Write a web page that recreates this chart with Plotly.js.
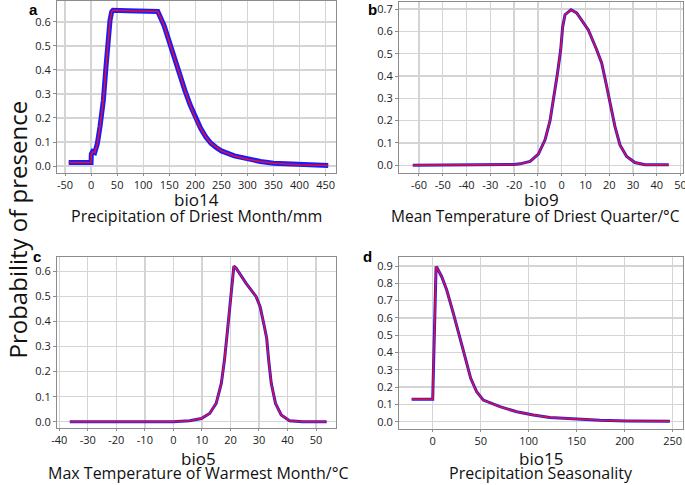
<!DOCTYPE html>
<html>
<head>
<meta charset="utf-8">
<script src="https://cdn.plot.ly/plotly-3.0.1.min.js"></script>
<style>html,body{margin:0;padding:0;background:#fff;}#chart{width:685px;height:485px;}</style>
</head>
<body>
<div id="chart"></div>
<script>
// Panel a: bio14
const aX = [-43, 0, 0.5, 3, 7, 12, 17, 23.5, 28.6, 32.4, 36.3, 39.5, 42, 70, 100, 128, 140, 150, 160, 170, 180, 190, 200, 210, 220, 230, 240, 250, 275, 300, 325, 350, 400, 455];
const aY = [0.015, 0.015, 0.05, 0.06, 0.056, 0.093, 0.162, 0.273, 0.412, 0.523, 0.606, 0.642, 0.648, 0.646, 0.645, 0.643, 0.585, 0.515, 0.445, 0.38, 0.315, 0.255, 0.2, 0.158, 0.122, 0.095, 0.077, 0.063, 0.042, 0.028, 0.019, 0.012, 0.005, 0.002];
// Panel b: bio9
const bX = [-62.6, -40, -25, -20, -17.5, -13.3, -9.8, -7, -4.9, -3.5, -1.8, -0.4, 0.4, 1.4, 3.9, 6.3, 11.2, 14.7, 16.8, 18.6, 20.3, 22.4, 24.5, 27.3, 30.8, 35, 45];
const bY = [0, 0, 0.001, 0.003, 0.006, 0.017, 0.05, 0.114, 0.2, 0.29, 0.41, 0.52, 0.62, 0.675, 0.697, 0.683, 0.607, 0.518, 0.459, 0.37, 0.28, 0.173, 0.091, 0.039, 0.012, 0.002, 0.002];
// Panel c: bio5
const cX = [-36.3, 0, 5.7, 9.8, 12.7, 15, 16.8, 17.9, 19.1, 20.3, 21.2, 22, 25.5, 29, 30.4, 31.9, 32.7, 33.4, 34.3, 35.8, 37.8, 40.7, 45.3, 53.7];
const cY = [0, 0, 0.004, 0.013, 0.033, 0.073, 0.153, 0.246, 0.379, 0.525, 0.621, 0.612, 0.552, 0.499, 0.459, 0.379, 0.333, 0.246, 0.153, 0.073, 0.027, 0.004, 0, 0];
// Panel d: bio15
const dX = [-21.9, 0, 3.5, 4.5, 9.4, 14.6, 21.5, 28.4, 33.6, 39.6, 45.8, 52.7, 70, 87.5, 104.8, 122, 150, 174, 202, 247];
const dY = [0.13, 0.13, 0.895, 0.89, 0.838, 0.761, 0.626, 0.491, 0.376, 0.251, 0.173, 0.125, 0.087, 0.058, 0.039, 0.025, 0.014, 0.008, 0.004, 0.003];

// Tick labels (plain hyphen minus, as in the reference)
const aTicks = [-50, 0, 50, 100, 150, 200, 250, 300, 350, 400, 450];
const aTickText = ['-50', '0', '50', '100', '150', '200', '250', '300', '350', '400', '450'];
const bTicks = [-60, -50, -40, -30, -20, -10, 0, 10, 20, 30, 40, 50];
const bTickText = ['-60', '-50', '-40', '-30', '-20', '-10', '0', '10', '20', '30', '40', '50'];
const cTicks = [-40, -30, -20, -10, 0, 10, 20, 30, 40, 50];
const cTickText = ['-40', '-30', '-20', '-10', '0', '10', '20', '30', '40', '50'];
const dTicks = [0, 50, 100, 150, 200, 250];
const dTickText = ['0', '50', '100', '150', '200', '250'];

const panels = [
  {x: aX, y: aY, xa: 'x', ya: 'y', band: 5, label: 'a', code: 'bio14', name: 'Precipitation of Driest Month/mm'},
  {x: bX, y: bY, xa: 'x2', ya: 'y2', band: 3, label: 'b', code: 'bio9', name: 'Mean Temperature of Driest Quarter/\u00b0C'},
  {x: cX, y: cY, xa: 'x3', ya: 'y3', band: 3, label: 'c', code: 'bio5', name: 'Max Temperature of Warmest Month/\u00b0C'},
  {x: dX, y: dY, xa: 'x4', ya: 'y4', band: 3, label: 'd', code: 'bio15', name: 'Precipitation Seasonality'}
];

const traces = [];
panels.forEach(p => {
  traces.push({x: p.x, y: p.y, xaxis: p.xa, yaxis: p.ya, mode: 'lines', line: {color: '#1a1aff', width: p.band}, hoverinfo: 'skip'});
  traces.push({x: p.x, y: p.y, xaxis: p.xa, yaxis: p.ya, mode: 'lines', line: {color: '#e8102a', width: 1.5}, hoverinfo: 'skip'});
});

const tickFont = {family: 'Open Sans, sans-serif', size: 11, color: '#222'};
function xax(domain, range, vals, text) {
  return {domain: domain, range: range, tickmode: 'array', tickvals: vals, ticktext: text, showgrid: true, gridcolor: '#d4d4d4', gridwidth: 1.3,
    zeroline: false, showline: true, linecolor: '#8c8c8c', linewidth: 1, mirror: true, ticks: 'outside', ticklen: 2, tickcolor: '#8c8c8c',
    tickfont: tickFont, ticklabeloverflow: 'allow', fixedrange: true};
}
function yax(domain, range) {
  return {domain: domain, range: range, dtick: 0.1, tick0: 0, tickformat: '.1f', showgrid: true, gridcolor: '#d4d4d4', gridwidth: 1.3,
    zeroline: false, showline: true, linecolor: '#8c8c8c', linewidth: 1, mirror: true, ticks: 'outside', ticklen: 3, tickcolor: '#8c8c8c',
    tickfont: tickFont, fixedrange: true};
}

const colL = [57/685, 336/685], colR = [399/685, 683/685];
const rowT = [1 - 173/485, 1 - 1/485], rowTb = [1 - 173/485, 1 - 2/485], rowB = [1 - 428/485, 1 - 257/485], rowBd = [1 - 429/485, 1 - 257/485];

const layout = {
  width: 685, height: 485, margin: {l: 0, r: 0, t: 0, b: 0}, showlegend: false,
  paper_bgcolor: '#fff', plot_bgcolor: '#fff',
  xaxis: Object.assign(xax(colL, [-65.4, 470], aTicks, aTickText), {anchor: 'y'}),
  yaxis: Object.assign(yax(rowT, [-0.029, 0.687]), {anchor: 'x'}),
  xaxis2: Object.assign(xax(colR, [-68.4, 51], bTicks, bTickText), {anchor: 'y2'}),
  yaxis2: Object.assign(yax(rowTb, [-0.035, 0.732]), {anchor: 'x2'}),
  xaxis3: Object.assign(xax(colL, [-40.8, 57], cTicks, cTickText), {anchor: 'y3'}),
  yaxis3: Object.assign(yax(rowB, [-0.025, 0.657]), {anchor: 'x3'}),
  xaxis4: Object.assign(xax(colR, [-35.1, 260.7], dTicks, dTickText), {anchor: 'y4'}),
  yaxis4: Object.assign(yax(rowBd, [-0.042, 0.952]), {anchor: 'x4'}),
  annotations: []
};

const labelPos = [[33, 9], [372, 9], [37, 256], [367, 256]];
const codeX = [196.5, 541, 198, 541];
const nameX = [196.5, 535, 198, 541];
const codeY = [199, 199, 458, 458];
const nameY = [216, 216, 473, 473];
const nameSize = [16, 15.5, 16, 16];
panels.forEach((p, i) => {
  layout.annotations.push({text: '<b>' + p.label + '</b>', x: labelPos[i][0]/685, y: 1 - labelPos[i][1]/485, xref: 'paper', yref: 'paper',
    showarrow: false, xanchor: 'center', yanchor: 'middle', font: {family: 'Liberation Sans, Arial, sans-serif', size: 15, color: '#000'}});
  layout.annotations.push({text: p.code, x: codeX[i]/685, y: 1 - codeY[i]/485, xref: 'paper', yref: 'paper', borderpad: 0,
    showarrow: false, xanchor: 'center', yanchor: 'middle', font: {family: 'Open Sans, sans-serif', size: 17, color: '#111'}});
  layout.annotations.push({text: p.name, x: nameX[i]/685, y: 1 - nameY[i]/485, xref: 'paper', yref: 'paper', borderpad: 0,
    showarrow: false, xanchor: 'center', yanchor: 'middle', font: {family: 'Open Sans, sans-serif', size: nameSize[i], color: '#111'}});
});
layout.annotations.push({text: 'Probability of presence', x: 16.5/685, y: 1 - 230/485, xref: 'paper', yref: 'paper', textangle: -90,
  showarrow: false, xanchor: 'center', yanchor: 'middle', font: {family: 'Open Sans, sans-serif', size: 24, color: '#111'}});

Plotly.newPlot('chart', traces, layout, {displayModeBar: false, staticPlot: true});
</script>
</body>
</html>
